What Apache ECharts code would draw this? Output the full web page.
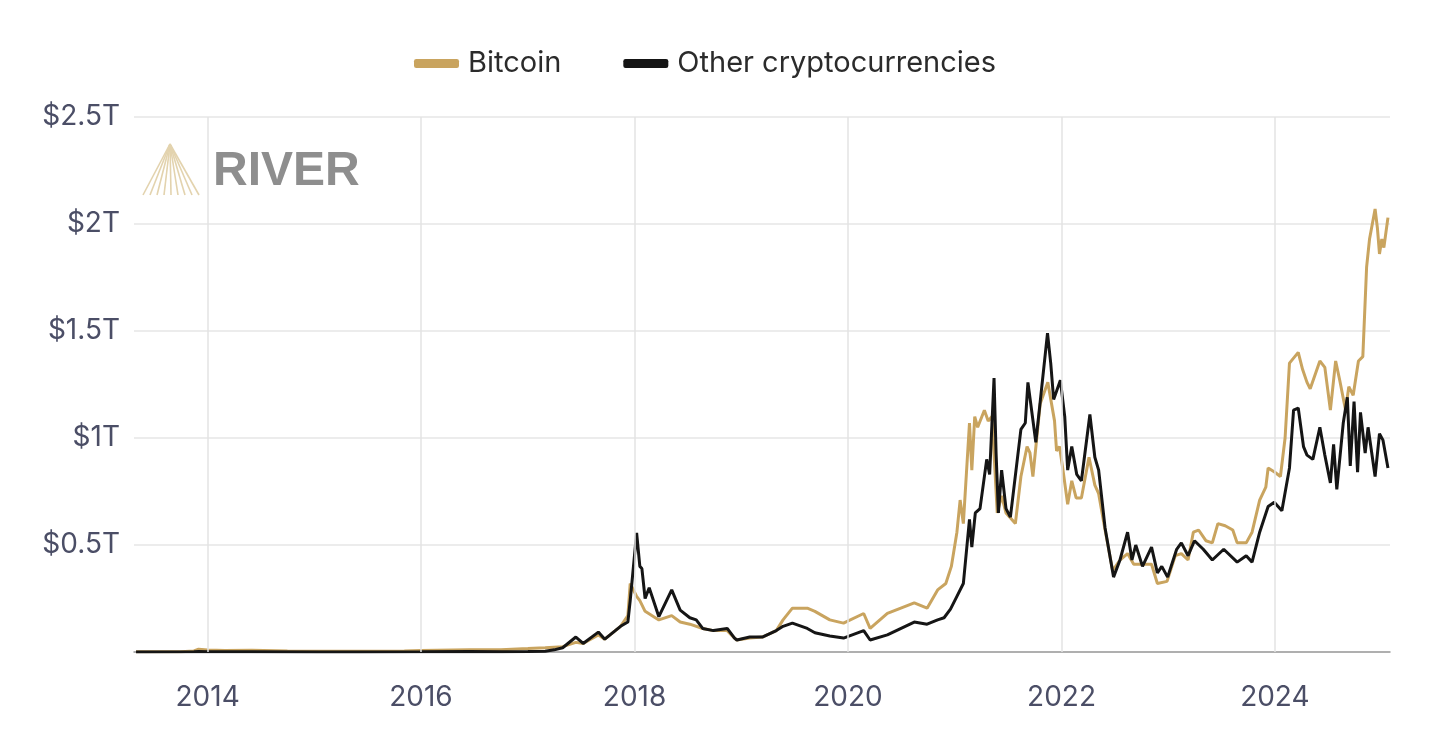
<!DOCTYPE html>
<html>
<head>
<meta charset="utf-8">
<script src="https://cdn.jsdelivr.net/npm/echarts@6/dist/echarts.min.js"></script>
<style>
  html, body { margin: 0; padding: 0; background: #fff; }
  #main { width: 1430px; height: 748px; }
</style>
</head>
<body>
<div id="main"></div>
<script>
// market cap, trillions of USD
var btcDates = ['2013-05-01','2013-10-01','2013-11-15','2013-12-01','2014-01-01','2014-03-01','2014-06-01','2014-10-01','2015-01-15','2015-06-01','2015-11-05','2016-01-01','2016-06-15','2016-10-01','2017-01-01','2017-03-01','2017-04-30','2017-06-14','2017-07-09','2017-08-30','2017-09-21','2017-11-14','2017-12-09','2017-12-17','2018-01-08','2018-01-19','2018-02-06','2018-03-25','2018-05-08','2018-06-06','2018-07-09','2018-08-22','2018-09-28','2018-11-14','2018-12-09','2018-12-17','2019-01-30','2019-03-14','2019-05-01','2019-05-24','2019-06-25','2019-08-15','2019-09-10','2019-10-31','2019-12-17','2020-02-24','2020-03-17','2020-05-15','2020-08-15','2020-09-28','2020-11-03','2020-12-01','2020-12-20','2021-01-08','2021-01-19','2021-01-30','2021-02-20','2021-02-28','2021-03-10','2021-03-20','2021-04-12','2021-04-25','2021-05-08','2021-05-15','2021-05-26','2021-06-10','2021-06-25','2021-07-27','2021-08-15','2021-09-05','2021-09-15','2021-09-25','2021-10-20','2021-11-15','2021-12-08','2021-12-15','2021-12-25','2022-01-05','2022-01-22','2022-02-05','2022-02-20','2022-03-10','2022-04-05','2022-04-25','2022-05-08','2022-05-30','2022-06-25','2022-07-20','2022-08-15','2022-09-05','2022-11-05','2022-11-25','2022-12-28','2023-01-25','2023-02-15','2023-03-10','2023-03-28','2023-04-15','2023-05-10','2023-06-01','2023-06-20','2023-07-15','2023-08-10','2023-08-25','2023-09-25','2023-10-15','2023-11-10','2023-12-01','2023-12-09','2024-01-01','2024-01-20','2024-02-05','2024-02-20','2024-03-21','2024-04-05','2024-04-20','2024-05-01','2024-06-03','2024-06-20','2024-07-09','2024-07-27','2024-08-10','2024-08-30','2024-09-10','2024-09-25','2024-10-13','2024-10-28','2024-11-10','2024-11-20','2024-12-09','2024-12-17','2024-12-24','2025-01-01','2025-01-08','2025-01-22'];
var btcValues = [0.0015,0.0015,0.005,0.013,0.009,0.007,0.008,0.005,0.003,0.0035,0.005,0.0065,0.011,0.010,0.016,0.02,0.025,0.045,0.04,0.08,0.06,0.12,0.17,0.32,0.26,0.24,0.19,0.15,0.17,0.14,0.13,0.11,0.10,0.10,0.065,0.056,0.065,0.07,0.10,0.15,0.205,0.205,0.19,0.15,0.135,0.18,0.11,0.18,0.23,0.205,0.29,0.32,0.40,0.56,0.71,0.60,1.07,0.85,1.10,1.05,1.13,1.08,1.10,0.93,0.65,0.73,0.65,0.60,0.82,0.96,0.93,0.82,1.16,1.26,1.08,0.94,0.96,0.86,0.69,0.80,0.72,0.72,0.91,0.78,0.74,0.57,0.38,0.43,0.46,0.41,0.41,0.32,0.33,0.45,0.46,0.43,0.56,0.57,0.52,0.51,0.60,0.59,0.57,0.51,0.51,0.56,0.71,0.77,0.86,0.84,0.82,1.0,1.35,1.40,1.32,1.26,1.23,1.36,1.33,1.13,1.36,1.27,1.13,1.24,1.20,1.36,1.38,1.80,1.93,2.07,1.98,1.86,1.93,1.89,2.03];

var altDates = ['2013-05-01','2013-11-15','2013-12-01','2014-01-01','2014-06-01','2015-01-15','2015-06-01','2016-01-01','2016-06-15','2016-10-01','2017-01-01','2017-03-01','2017-04-01','2017-04-30','2017-06-14','2017-07-09','2017-08-30','2017-09-21','2017-11-14','2017-12-09','2017-12-17','2018-01-08','2018-01-19','2018-01-26','2018-02-06','2018-02-20','2018-03-25','2018-05-08','2018-06-06','2018-07-09','2018-07-31','2018-08-22','2018-09-28','2018-11-14','2018-12-09','2018-12-17','2019-01-30','2019-03-14','2019-05-01','2019-05-24','2019-06-25','2019-08-15','2019-09-10','2019-10-31','2019-12-17','2020-02-24','2020-03-17','2020-05-15','2020-08-15','2020-09-28','2020-11-03','2020-11-25','2020-12-17','2021-01-08','2021-01-30','2021-02-20','2021-02-28','2021-03-12','2021-03-28','2021-04-20','2021-04-30','2021-05-15','2021-05-22','2021-05-30','2021-06-10','2021-06-25','2021-07-10','2021-08-15','2021-08-30','2021-09-08','2021-10-05','2021-10-20','2021-11-14','2021-11-25','2021-12-05','2021-12-28','2022-01-12','2022-01-22','2022-02-05','2022-02-22','2022-03-10','2022-04-08','2022-04-25','2022-05-08','2022-05-30','2022-06-28','2022-07-20','2022-08-15','2022-08-30','2022-09-12','2022-10-05','2022-11-05','2022-11-25','2022-12-10','2022-12-30','2023-01-30','2023-02-15','2023-03-10','2023-04-01','2023-05-01','2023-06-01','2023-07-10','2023-08-25','2023-09-25','2023-10-15','2023-11-10','2023-12-09','2023-12-30','2024-01-25','2024-02-20','2024-03-05','2024-03-21','2024-04-08','2024-04-20','2024-05-10','2024-06-03','2024-06-20','2024-07-09','2024-07-20','2024-07-31','2024-08-22','2024-09-05','2024-09-15','2024-09-28','2024-10-10','2024-10-20','2024-11-05','2024-11-15','2024-12-09','2024-12-24','2025-01-05','2025-01-22'];
var altValues = [0.0003,0.001,0.002,0.0015,0.0008,0.0005,0.0005,0.0007,0.002,0.0015,0.002,0.004,0.01,0.02,0.07,0.04,0.093,0.06,0.12,0.14,0.24,0.556,0.40,0.39,0.25,0.30,0.165,0.29,0.196,0.16,0.15,0.11,0.10,0.11,0.065,0.056,0.07,0.07,0.10,0.12,0.135,0.11,0.09,0.075,0.065,0.10,0.056,0.08,0.14,0.13,0.15,0.16,0.20,0.26,0.32,0.62,0.49,0.65,0.67,0.90,0.83,1.28,0.93,0.65,0.85,0.67,0.63,1.04,1.07,1.26,0.98,1.17,1.49,1.35,1.18,1.27,1.10,0.85,0.96,0.83,0.80,1.11,0.91,0.85,0.58,0.35,0.43,0.56,0.43,0.50,0.40,0.49,0.37,0.40,0.35,0.48,0.51,0.45,0.52,0.48,0.43,0.48,0.42,0.45,0.42,0.56,0.68,0.70,0.66,0.86,1.13,1.14,0.96,0.92,0.90,1.05,0.92,0.79,0.97,0.76,1.07,1.19,0.87,1.17,0.84,1.12,0.93,1.05,0.82,1.02,0.99,0.86];

var yearTicks = ['2014-01-01','2016-01-01','2018-01-01','2020-01-01','2022-01-01','2024-01-01'];

var seriesNames = ['Bitcoin', 'Other cryptocurrencies'];

function pairs(dates, values) {
  return dates.map(function (d, i) { return [d, values[i]]; });
}

var chart = echarts.init(document.getElementById('main'));

var labelColor = '#4b4e66';
var fontName = 'Inter, "Noto Sans", sans-serif';

// RIVER watermark logo (fan of thin lines + wordmark)
var fan = [];
var apex = [170, 144];
var feet = [143, 150, 157, 164, 171, 178, 185, 192, 199];
feet.forEach(function (fx) {
  fan.push({
    type: 'line',
    shape: { x1: apex[0], y1: apex[1], x2: fx, y2: 195 },
    style: { stroke: '#e3d3ae', lineWidth: 1.6 },
    silent: true,
    z: 0
  });
});

var option = {
  animation: false,
  backgroundColor: '#fff',
  color: ['#c9a45f', '#151515'],
  textStyle: { fontFamily: fontName },
  legend: {
    top: 44,
    left: 409,
    itemWidth: 45,
    itemHeight: 9,
    itemGap: 62,
    icon: 'roundRect',
    textStyle: { fontSize: 29, color: '#2b2b2b', fontFamily: fontName, padding: [0, 0, 0, 4] },
    data: seriesNames
  },
  grid: {
    left: 134,
    right: 40,
    top: 117,
    bottom: 96,
    containLabel: false
  },
  xAxis: {
    type: 'time',
    min: '2013-04-24',
    max: '2025-01-29',
    axisLine: { show: true, lineStyle: { color: '#9a9a9a', width: 1.5 } },
    axisTick: { show: false },
    splitLine: { show: false },
    axisLabel: { show: false }
  },
  yAxis: {
    type: 'value',
    min: 0,
    max: 2.5,
    interval: 0.5,
    axisLine: { show: false },
    axisTick: { show: false },
    splitLine: { lineStyle: { color: '#e6e6e6', width: 1.5 } },
    axisLabel: {
      color: labelColor,
      fontSize: 28,
      margin: 14,
      fontFamily: fontName,
      formatter: function (v) { return v === 0 ? '' : '$' + v + 'T'; }
    }
  },
  graphic: fan.concat([{
    type: 'text',
    left: 213,
    top: 148,
    silent: true,
    z: 0,
    style: {
      text: 'RIVER',
      fill: '#8e8e8e',
      font: 'bold 48px "Liberation Sans", Arial, sans-serif'
    }
  }]),
  series: [
    {
      // vertical year gridlines, labelled below the axis
      name: 'grid',
      type: 'line',
      data: [],
      z: 1,
      silent: true,
      markLine: {
        silent: true,
        symbol: 'none',
        label: {
          show: true,
          position: 'start',
          distance: 32,
          color: labelColor,
          fontSize: 28,
          fontFamily: fontName,
          formatter: function (p) { return new Date(p.value).getFullYear() + ''; }
        },
        lineStyle: { color: '#e3e3e3', width: 1.5, type: 'solid' },
        data: yearTicks.map(function (d) { return { xAxis: d }; })
      }
    },
    {
      name: seriesNames[0],
      type: 'line',
      showSymbol: false,
      symbol: 'none',
      lineStyle: { width: 3, color: '#c9a45f' },
      itemStyle: { color: '#c9a45f' },
      z: 3,
      data: pairs(btcDates, btcValues)
    },
    {
      name: seriesNames[1],
      type: 'line',
      showSymbol: false,
      symbol: 'none',
      lineStyle: { width: 3, color: '#151515' },
      itemStyle: { color: '#151515' },
      z: 4,
      data: pairs(altDates, altValues)
    }
  ]
};

chart.setOption(option);
</script>
</body>
</html>
